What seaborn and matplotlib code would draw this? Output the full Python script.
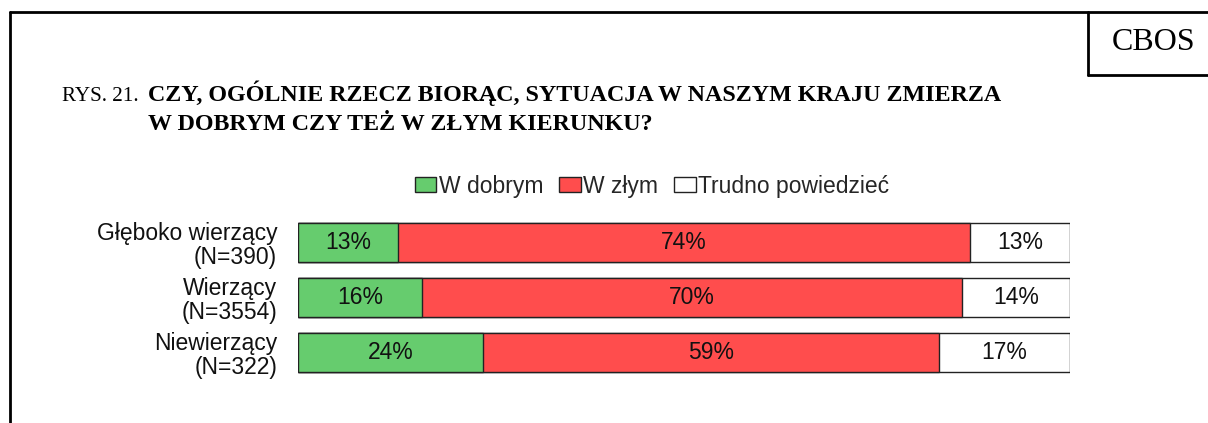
import matplotlib
matplotlib.use("Agg")
import matplotlib.pyplot as plt
from matplotlib.lines import Line2D
from matplotlib.patches import Patch
import pandas as pd
import seaborn as sns

# data
groups = ["Głęboko wierzący\n(N=390)", "Wierzący\n(N=3554)", "Niewierzący\n(N=322)"]
dobrym = [13, 16, 24]
zlym = [74, 70, 59]
trudno = [13, 14, 17]
series_names = ["W dobrym", "W złym", "Trudno powiedzieć"]
series_colors = ["#66cc6e", "#ff4d4d", "#ffffff"]

W, H = 1208, 423
sns.set_theme(style="white")
plt.rcParams["font.family"] = ["Liberation Sans", "DejaVu Sans"]

df = pd.DataFrame({"group": groups, "dobrym": dobrym, "zlym": zlym, "trudno": trudno})
df["c1"] = df["dobrym"]
df["c2"] = df["dobrym"] + df["zlym"]
df["c3"] = df["c2"] + df["trudno"]

fig = plt.figure(figsize=(W / 100, H / 100), dpi=100)
ax = fig.add_axes([298 / W, 1 - 380 / H, (1070 - 298) / W, 165 / H])

edge = "#222222"
# stacked bars drawn as overlapping cumulative bars
for col, color in zip(["c3", "c2", "c1"], series_colors[::-1]):
    sns.barplot(data=df, x=col, y="group", color=color, saturation=1, width=0.71,
                edgecolor=edge, linewidth=1, ax=ax)

lefts = [[0] * len(groups), list(df["c1"]), list(df["c2"])]
for vals, left in zip([dobrym, zlym, trudno], lefts):
    for i, (v, l) in enumerate(zip(vals, left)):
        ax.text(l + v / 2, i, f"{v}%", ha="center", va="center", fontsize=16.5, color="#111111")

ax.set_xlim(0, 100)
ax.set_ylim(2.5, -0.5)
ax.set_xlabel("")
ax.set_ylabel("")
ax.set_xticks([])
sns.despine(ax=ax, left=True, bottom=True)
ax.tick_params(axis="y", length=0, pad=15, labelsize=16.5, labelcolor="#111111")
for t in ax.get_yticklabels():
    t.set_horizontalalignment("right")
    t.set_multialignment("right")
    t.set_linespacing(1.05)

handles = [Patch(facecolor=c, edgecolor=edge, linewidth=1) for c in series_colors]
fig.legend(handles, series_names, loc="center", bbox_to_anchor=(652 / W, 1 - 186 / H),
           ncol=3, frameon=False, fontsize=16.5, handlelength=0.95, handleheight=0.65,
           handletextpad=0.1, columnspacing=0.7, borderaxespad=0)

# frame and CBOS box
def fx(x):
    return x / W

def fy(y):
    return 1 - y / H

lw = 2
fig.add_artist(Line2D([fx(10), 1], [fy(12), fy(12)], color="black", lw=lw))
fig.add_artist(Line2D([fx(10), fx(10)], [fy(12), 0], color="black", lw=lw))
fig.add_artist(Line2D([fx(1088), fx(1088)], [fy(12), fy(75)], color="black", lw=lw))
fig.add_artist(Line2D([fx(1088), 1], [fy(75), fy(75)], color="black", lw=lw))

serif = ["Liberation Serif", "DejaVu Serif"]
fig.text(fx(1154), fy(42), "CBOS", ha="center", va="center", fontsize=23, family=serif, color="black")
fig.text(fx(62), fy(101), "RYS. 21.", ha="left", va="baseline", fontsize=15.2, family=serif, color="black")
fig.text(fx(148), fy(101), "CZY, OGÓLNIE RZECZ BIORĄC, SYTUACJA W NASZYM KRAJU ZMIERZA",
         ha="left", va="baseline", fontsize=17.3, family=serif, weight="bold", color="black")
fig.text(fx(148), fy(130), "W DOBRYM CZY TEŻ W ZŁYM KIERUNKU?",
         ha="left", va="baseline", fontsize=17.3, family=serif, weight="bold", color="black")

fig.savefig("out.png", dpi=100, facecolor="white")
